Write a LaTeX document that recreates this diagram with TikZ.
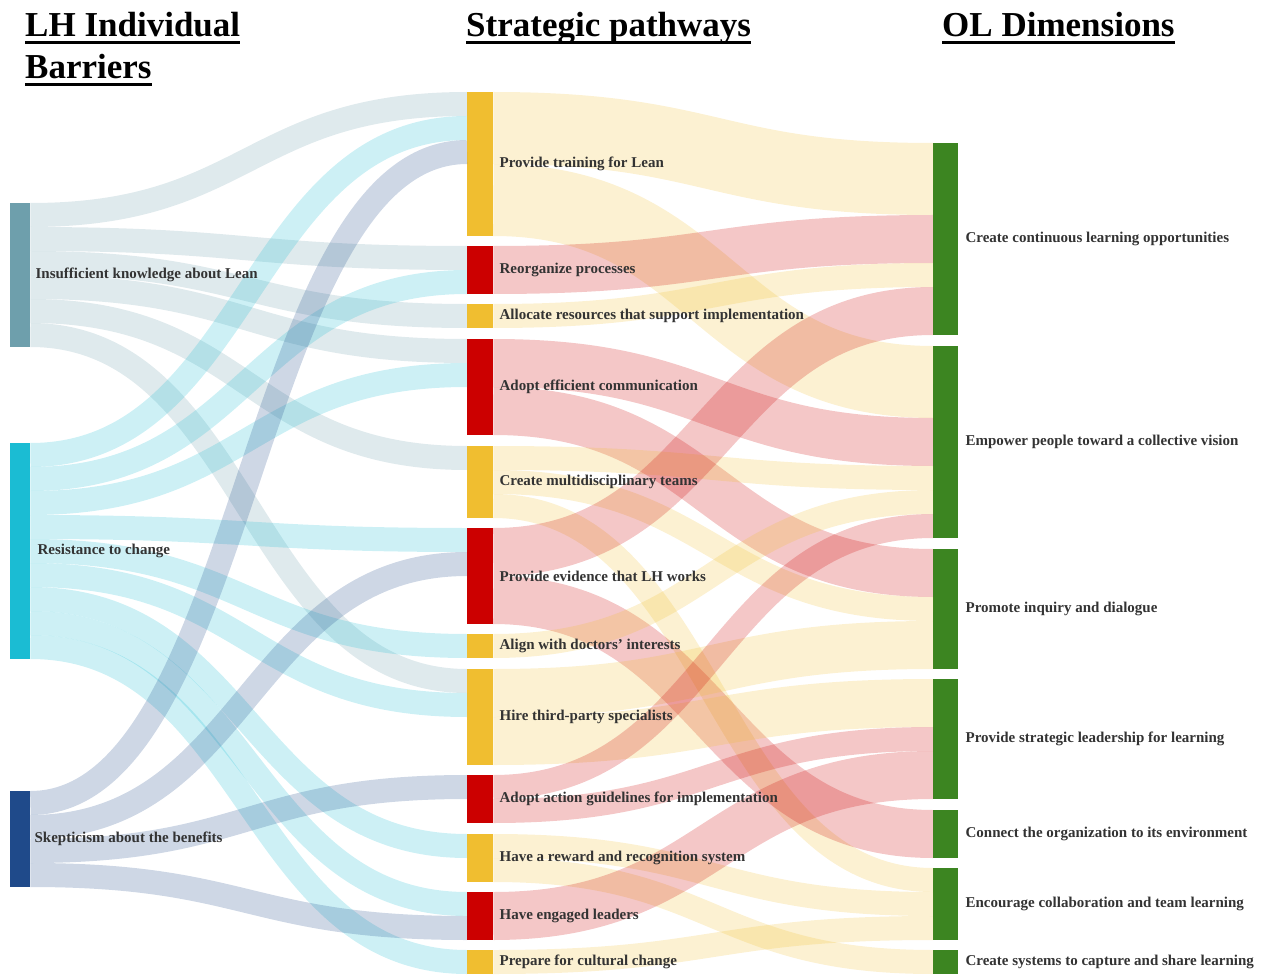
\documentclass[tikz,border=0pt]{standalone}
\usepackage{fontspec}
\setmainfont{Liberation Serif}
\usepackage{xcolor}
\usetikzlibrary{positioning}

\definecolor{knowc}{HTML}{6E9FAC}
\definecolor{resistc}{HTML}{1BBCD3}
\definecolor{skepc}{HTML}{1F4A8A}
\definecolor{pathy}{HTML}{F0BE30}
\definecolor{pathr}{HTML}{CC0000}
\definecolor{olgreen}{HTML}{3C8521}

\begin{document}
\begin{tikzpicture}[x=1pt,y=-1pt]

\tikzset{
    bar/.style = {
    inner sep=0pt,
    anchor=north west
    },
    lbl/.style = {
    inner sep=0pt,
    text=black!80,
    font=\fontsize{15}{18}\selectfont\bfseries
    },
    head/.style = {
    inner sep=0pt,
    anchor=base west,
    font=\fontsize{35}{40}\selectfont\bfseries
    },
    flow/.style = {
    draw opacity=0.22,
    line cap=butt
    }
}

\tikzstyle{barrier}=[bar, minimum width=20pt]
\tikzstyle{pathway}=[bar, minimum width=26pt]
\tikzstyle{dimension}=[bar, minimum width=25pt]
\tikzstyle{headrule}=[line width=3pt]

\useasboundingbox (0,0) rectangle (1277,976);

% column titles
\node (h-bar1) [head] at (25,37) {LH Individual};
\node (h-bar2) [head] at (25,79) {Barriers};
\node (h-path) [head] at (466,37) {Strategic pathways};
\node (h-ol) [head] at (942,37) {OL Dimensions};
\draw[headrule] ([yshift=-6pt]h-bar1.base west) -- ([yshift=-6pt]h-bar1.base east);
\draw[headrule] ([yshift=-6pt]h-bar2.base west) -- ([yshift=-6pt]h-bar2.base east);
\draw[headrule] ([yshift=-6pt]h-path.base west) -- ([yshift=-6pt]h-path.base east);
\draw[headrule] ([yshift=-6pt]h-ol.base west) -- ([yshift=-6pt]h-ol.base east);

% barriers
\node (insuff) [barrier, fill=knowc, minimum height=144pt] at (10,203) {};
\node (resist) [barrier, fill=resistc, minimum height=216pt] at (10,443) {};
\node (skept) [barrier, fill=skepc, minimum height=96pt] at (10,791) {};

% pathways
\node (train) [pathway, fill=pathy, minimum height=144pt] at (467,92) {};
\node (reorg) [pathway, fill=pathr, minimum height=48pt] at (467,246) {};
\node (alloc) [pathway, fill=pathy, minimum height=24pt] at (467,304) {};
\node (comm) [pathway, fill=pathr, minimum height=96pt] at (467,339) {};
\node (teams) [pathway, fill=pathy, minimum height=72pt] at (467,446) {};
\node (evid) [pathway, fill=pathr, minimum height=96pt] at (467,528) {};
\node (align) [pathway, fill=pathy, minimum height=24pt] at (467,634) {};
\node (hire) [pathway, fill=pathy, minimum height=96pt] at (467,669) {};
\node (guide) [pathway, fill=pathr, minimum height=48pt] at (467,775) {};
\node (reward) [pathway, fill=pathy, minimum height=48pt] at (467,834) {};
\node (leaders) [pathway, fill=pathr, minimum height=48pt] at (467,892) {};
\node (cultural) [pathway, fill=pathy, minimum height=24pt] at (467,950) {};

% OL dimensions
\node (cl) [dimension, fill=olgreen, minimum height=192pt] at (933,143) {};
\node (ep) [dimension, fill=olgreen, minimum height=192pt] at (933,346) {};
\node (id) [dimension, fill=olgreen, minimum height=120pt] at (933,549) {};
\node (sl) [dimension, fill=olgreen, minimum height=120pt] at (933,679) {};
\node (co) [dimension, fill=olgreen, minimum height=48pt] at (933,810) {};
\node (ct) [dimension, fill=olgreen, minimum height=72pt] at (933,868) {};
\node (sy) [dimension, fill=olgreen, minimum height=24pt] at (933,950) {};

% barriers -> pathways
\draw[flow, draw=knowc, line width=24pt] ([yshift=-12pt]insuff.north east) .. controls +(218,0) and +(-218,0) .. ([yshift=-12pt]train.north west);
\draw[flow, draw=knowc, line width=24pt] ([yshift=-36pt]insuff.north east) .. controls +(218,0) and +(-218,0) .. ([yshift=-12pt]reorg.north west);
\draw[flow, draw=knowc, line width=24pt] ([yshift=-60pt]insuff.north east) .. controls +(218,0) and +(-218,0) .. ([yshift=-12pt]alloc.north west);
\draw[flow, draw=knowc, line width=24pt] ([yshift=-84pt]insuff.north east) .. controls +(218,0) and +(-218,0) .. ([yshift=-12pt]comm.north west);
\draw[flow, draw=knowc, line width=24pt] ([yshift=-108pt]insuff.north east) .. controls +(218,0) and +(-218,0) .. ([yshift=-12pt]teams.north west);
\draw[flow, draw=knowc, line width=24pt] ([yshift=-132pt]insuff.north east) .. controls +(218,0) and +(-218,0) .. ([yshift=-12pt]hire.north west);

\draw[flow, draw=resistc, line width=24pt] ([yshift=-12pt]resist.north east) .. controls +(218,0) and +(-218,0) .. ([yshift=-36pt]train.north west);
\draw[flow, draw=resistc, line width=24pt] ([yshift=-36pt]resist.north east) .. controls +(218,0) and +(-218,0) .. ([yshift=-36pt]reorg.north west);
\draw[flow, draw=resistc, line width=24pt] ([yshift=-60pt]resist.north east) .. controls +(218,0) and +(-218,0) .. ([yshift=-36pt]comm.north west);
\draw[flow, draw=resistc, line width=24pt] ([yshift=-84pt]resist.north east) .. controls +(218,0) and +(-218,0) .. ([yshift=-12pt]evid.north west);
\draw[flow, draw=resistc, line width=24pt] ([yshift=-108pt]resist.north east) .. controls +(218,0) and +(-218,0) .. ([yshift=-12pt]align.north west);
\draw[flow, draw=resistc, line width=24pt] ([yshift=-132pt]resist.north east) .. controls +(218,0) and +(-218,0) .. ([yshift=-36pt]hire.north west);
\draw[flow, draw=resistc, line width=24pt] ([yshift=-156pt]resist.north east) .. controls +(218,0) and +(-218,0) .. ([yshift=-12pt]reward.north west);
\draw[flow, draw=resistc, line width=24pt] ([yshift=-180pt]resist.north east) .. controls +(218,0) and +(-218,0) .. ([yshift=-12pt]leaders.north west);
\draw[flow, draw=resistc, line width=24pt] ([yshift=-204pt]resist.north east) .. controls +(218,0) and +(-218,0) .. ([yshift=-12pt]cultural.north west);

\draw[flow, draw=skepc, line width=24pt] ([yshift=-12pt]skept.north east) .. controls +(218,0) and +(-218,0) .. ([yshift=-60pt]train.north west);
\draw[flow, draw=skepc, line width=24pt] ([yshift=-36pt]skept.north east) .. controls +(218,0) and +(-218,0) .. ([yshift=-36pt]evid.north west);
\draw[flow, draw=skepc, line width=24pt] ([yshift=-60pt]skept.north east) .. controls +(218,0) and +(-218,0) .. ([yshift=-12pt]guide.north west);
\draw[flow, draw=skepc, line width=24pt] ([yshift=-84pt]skept.north east) .. controls +(218,0) and +(-218,0) .. ([yshift=-36pt]leaders.north west);

% pathways -> OL dimensions
\draw[flow, draw=pathy, line width=72pt] ([yshift=-36pt]train.north east) .. controls +(220,0) and +(-220,0) .. ([yshift=-36pt]cl.north west);
\draw[flow, draw=pathy, line width=72pt] ([yshift=-108pt]train.north east) .. controls +(220,0) and +(-220,0) .. ([yshift=-36pt]ep.north west);
\draw[flow, draw=pathr, line width=48pt] ([yshift=-24pt]reorg.north east) .. controls +(220,0) and +(-220,0) .. ([yshift=-96pt]cl.north west);
\draw[flow, draw=pathy, line width=24pt] ([yshift=-12pt]alloc.north east) .. controls +(220,0) and +(-220,0) .. ([yshift=-132pt]cl.north west);
\draw[flow, draw=pathr, line width=48pt] ([yshift=-24pt]comm.north east) .. controls +(220,0) and +(-220,0) .. ([yshift=-96pt]ep.north west);
\draw[flow, draw=pathr, line width=48pt] ([yshift=-72pt]comm.north east) .. controls +(220,0) and +(-220,0) .. ([yshift=-24pt]id.north west);
\draw[flow, draw=pathy, line width=24pt] ([yshift=-12pt]teams.north east) .. controls +(220,0) and +(-220,0) .. ([yshift=-132pt]ep.north west);
\draw[flow, draw=pathy, line width=24pt] ([yshift=-36pt]teams.north east) .. controls +(220,0) and +(-220,0) .. ([yshift=-60pt]id.north west);
\draw[flow, draw=pathy, line width=24pt] ([yshift=-60pt]teams.north east) .. controls +(220,0) and +(-220,0) .. ([yshift=-12pt]ct.north west);
\draw[flow, draw=pathr, line width=48pt] ([yshift=-24pt]evid.north east) .. controls +(220,0) and +(-220,0) .. ([yshift=-168pt]cl.north west);
\draw[flow, draw=pathr, line width=48pt] ([yshift=-72pt]evid.north east) .. controls +(220,0) and +(-220,0) .. ([yshift=-24pt]co.north west);
\draw[flow, draw=pathy, line width=24pt] ([yshift=-12pt]align.north east) .. controls +(220,0) and +(-220,0) .. ([yshift=-156pt]ep.north west);
\draw[flow, draw=pathy, line width=48pt] ([yshift=-24pt]hire.north east) .. controls +(220,0) and +(-220,0) .. ([yshift=-96pt]id.north west);
\draw[flow, draw=pathy, line width=48pt] ([yshift=-72pt]hire.north east) .. controls +(220,0) and +(-220,0) .. ([yshift=-24pt]sl.north west);
\draw[flow, draw=pathr, line width=24pt] ([yshift=-12pt]guide.north east) .. controls +(220,0) and +(-220,0) .. ([yshift=-180pt]ep.north west);
\draw[flow, draw=pathr, line width=24pt] ([yshift=-36pt]guide.north east) .. controls +(220,0) and +(-220,0) .. ([yshift=-60pt]sl.north west);
\draw[flow, draw=pathy, line width=24pt] ([yshift=-12pt]reward.north east) .. controls +(220,0) and +(-220,0) .. ([yshift=-36pt]ct.north west);
\draw[flow, draw=pathy, line width=24pt] ([yshift=-36pt]reward.north east) .. controls +(220,0) and +(-220,0) .. ([yshift=-12pt]sy.north west);
\draw[flow, draw=pathr, line width=48pt] ([yshift=-24pt]leaders.north east) .. controls +(220,0) and +(-220,0) .. ([yshift=-96pt]sl.north west);
\draw[flow, draw=pathy, line width=24pt] ([yshift=-12pt]cultural.north east) .. controls +(220,0) and +(-220,0) .. ([yshift=-60pt]ct.north west);

% labels
\node (insuff-l) [lbl, right=5pt of insuff] {Insufficient knowledge about Lean};
\node (resist-l) [lbl, right=7pt of resist] {Resistance to change};
\node (skept-l) [lbl, right=4pt of skept] {Skepticism about the benefits};

\node (train-l) [lbl, right=6pt of train] {Provide training for Lean};
\node (reorg-l) [lbl, right=6pt of reorg] {Reorganize processes};
\node (alloc-l) [lbl, right=6pt of alloc] {Allocate resources that support implementation};
\node (comm-l) [lbl, right=6pt of comm] {Adopt efficient communication};
\node (teams-l) [lbl, right=6pt of teams] {Create multidisciplinary teams};
\node (evid-l) [lbl, right=6pt of evid] {Provide evidence that LH works};
\node (align-l) [lbl, right=6pt of align] {Align with doctors' interests};
\node (hire-l) [lbl, right=6pt of hire] {Hire third-party specialists};
\node (guide-l) [lbl, right=6pt of guide] {Adopt action guidelines for implementation};
\node (reward-l) [lbl, right=6pt of reward] {Have a reward and recognition system};
\node (leaders-l) [lbl, right=6pt of leaders] {Have engaged leaders};
\node (cultural-l) [lbl, right=6pt of cultural] {Prepare for cultural change};

\node (cl-l) [lbl, right=7pt of cl] {Create continuous learning opportunities};
\node (ep-l) [lbl, right=7pt of ep] {Empower people toward a collective vision};
\node (id-l) [lbl, right=7pt of id] {Promote inquiry and dialogue};
\node (sl-l) [lbl, right=7pt of sl] {Provide strategic leadership for learning};
\node (co-l) [lbl, right=7pt of co] {Connect the organization to its environment};
\node (ct-l) [lbl, right=7pt of ct] {Encourage collaboration and team learning};
\node (sy-l) [lbl, right=7pt of sy] {Create systems to capture and share learning};

\end{tikzpicture}
\end{document}
